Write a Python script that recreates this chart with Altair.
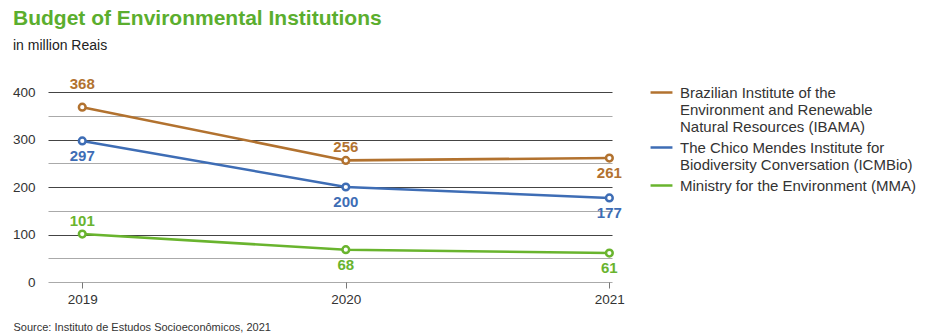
import altair as alt
import pandas as pd

years = [2019, 2020, 2021]
series_names = [
    "Brazilian Institute of the\nEnvironment and Renewable\nNatural Resources (IBAMA)",
    "The Chico Mendes Institute for\nBiodiversity Conversation (ICMBio)",
    "Ministry for the Environment (MMA)",
]
ibama = [368, 256, 261]
icmbio = [297, 200, 177]
mma = [101, 68, 61]
label_side_ibama = ["top", "above", "below"]
label_side_icmbio = ["below", "below", "below"]
label_side_mma = ["above", "below", "below"]
colors = ["#B2722F", "#3E6DB5", "#69B42E"]

rows = []
for name, vals, sides in zip(series_names, [ibama, icmbio, mma],
                             [label_side_ibama, label_side_icmbio, label_side_mma]):
    for y, v, s in zip(years, vals, sides):
        rows.append({"year": y, "value": v, "series": name, "side": s})
df = pd.DataFrame(rows)

FONT = "Liberation Sans"

color_scale = alt.Scale(domain=series_names, range=colors)

x_enc = alt.X("year:Q",
              scale=alt.Scale(domain=[2018.87, 2021.01], nice=False, zero=False),
              axis=alt.Axis(values=years, format="d", grid=False, domain=False,
                            ticks=True, tickSize=6, tickColor="#777", tickWidth=1,
                            labelFontSize=13.5, labelColor="#333", labelPadding=4,
                            labelFont=FONT,
                            title="Source: Instituto de Estudos Socioeconômicos, 2021",
                            titleFont=FONT, titleFontSize=11, titleFontWeight="normal",
                            titleColor="#333", titleAnchor="start", titleAlign="left",
                            titleX=-35, titleY=45, titleBaseline="middle"))
y_enc = alt.Y("value:Q",
              scale=alt.Scale(domain=[0, 400], nice=False),
              axis=alt.Axis(values=[0, 50, 100, 150, 200, 250, 300, 350, 400],
                            labelExpr="datum.value % 100 === 0 ? datum.label : ''",
                            grid=True,
                            gridColor={"condition": {"test": "datum.value % 100 === 0 && datum.value > 0",
                                                     "value": "#444"},
                                       "value": "#aaa"},
                            gridWidth=1.2,
                            domain=False, ticks=False, labelPadding=13,
                            labelFontSize=13.5, labelColor="#333", labelFont=FONT,
                            title=None))

base = alt.Chart(df).encode(
    x=x_enc,
    y=y_enc,
    color=alt.Color("series:N", scale=color_scale,
                    legend=alt.Legend(title=None, orient="none", legendX=601, legendY=-12,
                                      symbolType="stroke", symbolStrokeWidth=2.5,
                                      symbolSize=480, labelFontSize=15, labelColor="#333",
                                      labelFont=FONT, labelLimit=400,
                                      labelExpr="split(datum.label, '\\n')",
                                      rowPadding=0, labelOffset=6)),
)

lines = base.mark_line(strokeWidth=2.6)
points = base.mark_point(filled=True, fill="white", size=45, strokeWidth=2.5, opacity=1).encode(
    stroke=alt.Color("series:N", scale=color_scale, legend=None)
)

def labels(side, dy):
    return base.transform_filter(alt.datum.side == side).mark_text(
        dy=dy, fontSize=15, fontWeight="bold", font=FONT
    ).encode(text="value:Q")

chart = alt.layer(
    lines, points,
    labels("top", -23), labels("above", -13), labels("below", 15),
).properties(
    width=564, height=190,
    title=alt.TitleParams(
        text="Budget of Environmental Institutions",
        subtitle="in million Reais",
        anchor="start", frame="group", dx=-35, offset=24,
        font=FONT, fontSize=21, fontWeight="bold", color="#5BAE2E",
        subtitleFont=FONT, subtitleFontSize=14, subtitleColor="#222",
        subtitlePadding=10,
    ),
    padding={"left": 48, "top": 92, "right": 326, "bottom": 51},
    autosize=alt.AutoSizeParams(type="none"),
).configure_view(stroke=None)

chart.save("out.html", embed_options={"renderer": "svg", "actions": False})
